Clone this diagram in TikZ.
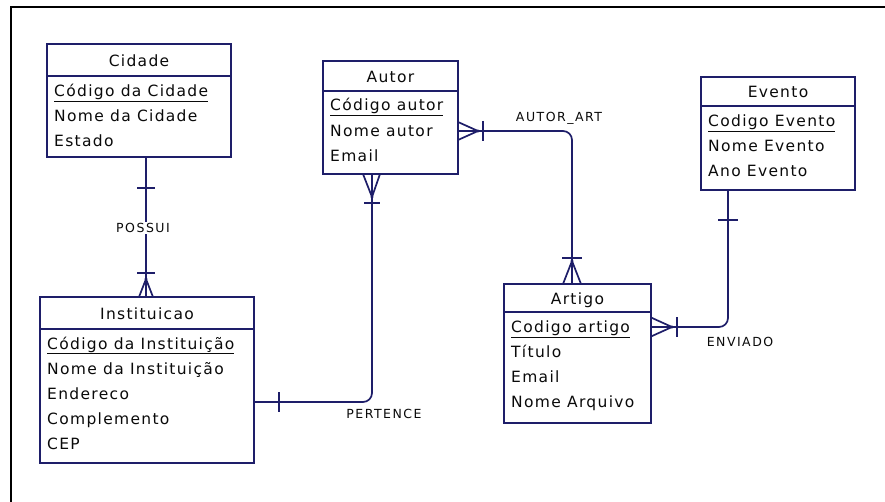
\documentclass[tikz,border=0pt]{standalone}
\usepackage{fontspec}
\newfontfamily\entfont{DejaVu Sans}[LetterSpace=8.5]
\newfontfamily\relfont{DejaVu Sans}[LetterSpace=12]
\definecolor{erline}{RGB}{30,30,105}
\definecolor{ertext}{RGB}{10,10,10}
\begin{document}
\begin{tikzpicture}[x=1pt,y=-1pt,
  ent/.style={draw=erline, line width=1.7pt, fill=white, anchor=north west, inner sep=0pt, outer sep=0pt},
  divline/.style={draw=erline, line width=1.7pt},
  hdr/.style={anchor=base, inner sep=0pt, text=ertext, font=\entfont\fontsize{15.5}{18}\selectfont},
  att/.style={anchor=base west, inner sep=0pt, text=ertext, font=\entfont\fontsize{15.5}{18}\selectfont},
  rel/.style={draw=erline, line width=1.7pt, rounded corners=9pt},
  cardmark/.style={draw=erline, line width=1.7pt},
  lbl/.style={anchor=center, inner sep=1.5pt, fill=white, text=ertext, font=\relfont\fontsize{12.5}{15}\selectfont},
  dotc/.style={fill=erline, draw=none}]
\useasboundingbox (0,0) rectangle (885,502);
\fill[white] (0,0) rectangle (885,502);
% frame
\draw[line width=2.4pt, black] (11,503) -- (11,7) -- (886,7);

% ---------- Cidade ----------
\node[ent, minimum width=184pt, minimum height=113pt] (cidade) at (47,44) {};
\draw[divline] ([yshift=-32pt]cidade.north west) -- ([yshift=-32pt]cidade.north east);
\node[hdr] (cidadeT) at (139,66.5) {Cidade};
\node[att] (cidade1) at (54,96.5) {\underline{Código da Cidade}};
\node[att] (cidade2) at (54,122) {Nome da Cidade};
\node[att] (cidade3) at (54,147) {Estado};

% ---------- Autor ----------
\node[ent, minimum width=135pt, minimum height=113pt] (autor) at (323,61) {};
\draw[divline] ([yshift=-30pt]autor.north west) -- ([yshift=-30pt]autor.north east);
\node[hdr] (autorT) at (390.5,82.5) {Autor};
\node[att] (autor1) at (330,111) {\underline{Código autor}};
\node[att] (autor2) at (330,136.5) {Nome autor};
\node[att] (autor3) at (330,162) {Email};

% ---------- Instituicao ----------
\node[ent, minimum width=214pt, minimum height=166pt] (inst) at (40,297) {};
\draw[divline] ([yshift=-32pt]inst.north west) -- ([yshift=-32pt]inst.north east);
\node[hdr] (instT) at (147,319.5) {Instituicao};
\node[att] (inst1) at (47,349) {\underline{Código da Instituição}};
\node[att] (inst2) at (47,374) {Nome da Instituição};
\node[att] (inst3) at (47,399) {Endereco};
\node[att] (inst4) at (47,424) {Complemento};
\node[att] (inst5) at (47,449) {CEP};

% ---------- Artigo ----------
\node[ent, minimum width=147pt, minimum height=139pt] (artigo) at (504,284) {};
\draw[divline] ([yshift=-28pt]artigo.north west) -- ([yshift=-28pt]artigo.north east);
\node[hdr] (artigoT) at (577.5,304.5) {Artigo};
\node[att] (artigo1) at (511,332.5) {\underline{Codigo artigo}};
\node[att] (artigo2) at (511,357.5) {Título};
\node[att] (artigo3) at (511,382.5) {Email};
\node[att] (artigo4) at (511,407.5) {Nome Arquivo};

% ---------- Evento ----------
\node[ent, minimum width=154pt, minimum height=113pt] (evento) at (701,77) {};
\draw[divline] ([yshift=-29pt]evento.north west) -- ([yshift=-29pt]evento.north east);
\node[hdr] (eventoT) at (778,98) {Evento};
\node[att] (evento1) at (708,126.5) {\underline{Codigo Evento}};
\node[att] (evento2) at (708,151.5) {Nome Evento};
\node[att] (evento3) at (708,176.5) {Ano Evento};

% ---------- POSSUI (Cidade 1 - N Instituicao) ----------
\coordinate (cA) at ([xshift=99pt]cidade.south west);
\coordinate (iA) at ([xshift=106pt]inst.north west);
\draw[rel] (cA) -- (iA);
\draw[cardmark] ([xshift=-9pt,yshift=-31pt]cA) -- ([xshift=9pt,yshift=-31pt]cA);
\draw[cardmark] ([xshift=-9pt,yshift=24pt]iA) -- ([xshift=9pt,yshift=24pt]iA);
\draw[cardmark] ([xshift=-7pt]iA) -- ([yshift=18pt]iA) -- ([xshift=7pt]iA);
\fill[dotc] ([yshift=18pt]iA) circle (1.6pt);
\node[lbl] (possui) at (143,228) {POSSUI};

% ---------- PERTENCE (Instituicao 1 - N Autor) ----------
\coordinate (iB) at ([yshift=-105pt]inst.north east);
\coordinate (aB) at ([xshift=49pt]autor.south west);
\draw[rel] (iB) -| (aB);
\draw[cardmark] ([xshift=25pt,yshift=10pt]iB) -- ([xshift=25pt,yshift=-10pt]iB);
\draw[cardmark] ([xshift=-9pt]aB) -- ([yshift=-23pt]aB) -- ([xshift=8pt]aB);
\draw[cardmark] ([xshift=-8pt,yshift=-29pt]aB) -- ([xshift=8pt,yshift=-29pt]aB);
\fill[dotc] ([yshift=-23pt]aB) circle (1.6pt);
\node[lbl, fill=none] (pertence) at (384,414) {PERTENCE};

% ---------- AUTOR_ART (Autor N - N Artigo) ----------
\coordinate (aC) at ([yshift=-70pt]autor.north east);
\coordinate (rC) at ([xshift=68pt]artigo.north west);
\draw[rel] (aC) -| (rC);
\draw[cardmark] ([yshift=9pt]aC) -- ([xshift=20pt]aC) -- ([yshift=-9pt]aC);
\draw[cardmark] ([xshift=25pt,yshift=10pt]aC) -- ([xshift=25pt,yshift=-10pt]aC);
\fill[dotc] ([xshift=20pt]aC) circle (1.6pt);
\draw[cardmark] ([xshift=-9pt]rC) -- ([yshift=23pt]rC) -- ([xshift=9pt]rC);
\draw[cardmark] ([xshift=-10pt,yshift=26pt]rC) -- ([xshift=10pt,yshift=26pt]rC);
\fill[dotc] ([yshift=23pt]rC) circle (1.6pt);
\node[lbl, fill=none] (autorart) at (559,118) {AUTOR\_ART};

% ---------- ENVIADO (Artigo N - 1 Evento) ----------
\coordinate (rD) at ([yshift=-43pt]artigo.north east);
\coordinate (eD) at ([xshift=27pt]evento.south west);
\draw[rel] (rD) -| (eD);
\draw[cardmark] ([yshift=9.5pt]rD) -- ([xshift=21pt]rD) -- ([yshift=-9.5pt]rD);
\draw[cardmark] ([xshift=26pt,yshift=10pt]rD) -- ([xshift=26pt,yshift=-10pt]rD);
\fill[dotc] ([xshift=21pt]rD) circle (1.6pt);
\draw[cardmark] ([xshift=-10pt,yshift=-30pt]eD) -- ([xshift=10pt,yshift=-30pt]eD);
\node[lbl, fill=none] (enviado) at (740,342) {ENVIADO};
\end{tikzpicture}
\end{document}
